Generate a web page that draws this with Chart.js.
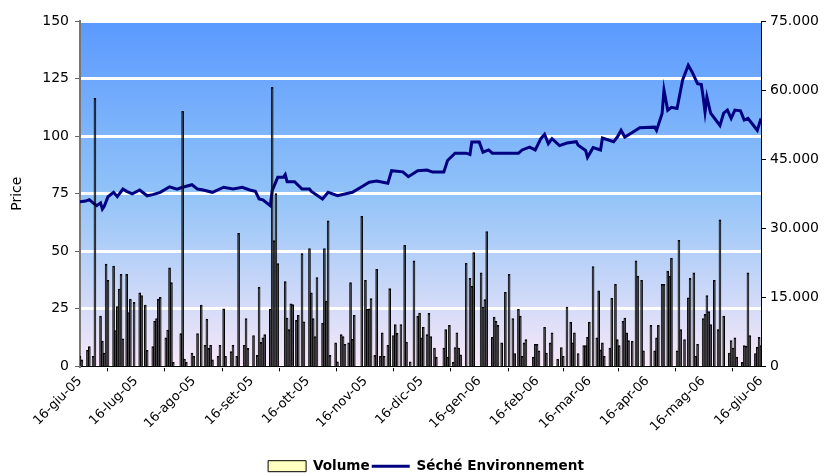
<!DOCTYPE html>
<html>
<head>
<meta charset="utf-8">
<script src="https://cdn.jsdelivr.net/npm/chart.js@4.4.0/dist/chart.umd.min.js"></script>
<style>
  html, body { margin: 0; padding: 0; background: #fff; }
  #wrap { width: 826px; height: 475px; }
</style>
</head>
<body>
<div id="wrap"><canvas id="chart" width="826" height="475"></canvas></div>
<script>
// days counted from 16-giu-05
const tickDays = [0, 30, 61, 92, 122, 153, 183, 214, 245, 273, 304, 334, 365];
const tickLabels = ['16-giu-05', '16-lug-05', '16-ago-05', '16-set-05', '16-ott-05', '16-nov-05',
  '16-dic-05', '16-gen-06', '16-feb-06', '16-mar-06', '16-apr-06', '16-mag-06', '16-giu-06'];

// Séché Environnement closing price (left axis)
const priceDays = [0, 3, 5, 7, 9, 11, 12, 13, 15, 18, 20, 23, 25, 28, 32, 36, 39, 43, 48, 52, 55, 60, 63, 66, 71,
  77, 82, 87, 91, 94, 96, 98, 102, 103, 106, 109, 110, 111, 115, 119, 123, 124, 130, 133, 138, 146, 151,
  155, 159, 165, 167, 173, 176, 181, 186, 189, 195, 197, 201, 207, 209, 210, 214, 216, 219, 221, 227, 235,
  237, 241, 244, 247, 249, 251, 253, 257, 261, 266, 267, 271, 272, 275, 279, 280, 286, 288, 290, 292, 296,
  300, 308, 309, 312, 313, 315, 317, 320, 323, 326, 328, 331, 333, 334, 335, 336, 338, 341, 343, 345, 347,
  349, 351, 354, 356, 358, 361, 363, 365];
const prices = [71.5, 71.8, 72.4, 71, 69.8, 71, 68.3, 69.5, 73.7, 75.6, 73.7, 77, 76, 74.9, 76.6, 74.1, 74.6, 75.6,
  78, 77, 77.8, 78.9, 77, 76.6, 75.6, 77.8, 77, 77.8, 76.6, 76, 72.7, 72.3, 69.8, 76.3, 82.1, 82.1, 83.3, 80.2,
  80.2, 77, 77, 76, 72.7, 75.6, 74.1, 75.6, 78, 80, 80.5, 79.5, 85, 84.5, 82.4, 85, 85.3, 84.4, 84.4, 89.4,
  92.6, 92.6, 92, 97.4, 97.4, 93, 94, 92.6, 92.6, 92.6, 94, 95.2, 94, 98.9, 100.8, 96.7, 98.9, 95.9, 97, 97.6,
  96, 93.8, 90.8, 95, 94, 99.2, 97.6, 99.6, 102.5, 99.6, 101.6, 103.6, 103.9, 102.5, 109.8, 120, 111.2, 112.5,
  112, 124.4, 130.8, 128, 122.8, 122.4, 117, 110.5, 117, 110, 106.8, 104.6, 110, 111.3, 107.7, 111.3, 111,
  107, 107.7, 104.6, 102.5, 107.7];

// daily volume (right axis)
const volumeDays = [0, 1, 4, 5, 7, 8, 11, 12, 13, 14, 15, 18, 19, 20, 21, 22, 23, 25, 26, 27, 29, 32, 33, 35, 36,
  39, 40, 41, 42, 43, 46, 47, 48, 49, 50, 54, 55, 56, 57, 60, 61, 63, 65, 67, 68, 69, 70, 71, 74, 75, 77, 78,
  81, 82, 84, 85, 88, 89, 90, 93, 95, 96, 97, 98, 99, 102, 103, 104, 105, 106, 110, 111, 112, 113, 114, 116,
  117, 119, 120, 123, 124, 125, 126, 127, 130, 131, 132, 133, 134, 137, 138, 140, 141, 142, 144, 145, 146,
  147, 151, 153, 154, 155, 156, 158, 159, 161, 162, 163, 165, 166, 168, 169, 170, 172, 174, 175, 177, 179,
  181, 182, 183, 184, 186, 187, 188, 190, 191, 195, 196, 197, 198, 200, 201, 202, 203, 204, 207, 209, 210,
  211, 215, 216, 217, 218, 221, 222, 223, 224, 226, 228, 230, 232, 233, 235, 236, 237, 238, 239, 243, 244,
  245, 246, 249, 250, 252, 253, 256, 258, 259, 261, 263, 264, 265, 267, 270, 271, 272, 273, 275, 277, 278,
  279, 280, 281, 284, 285, 287, 288, 289, 291, 292, 293, 294, 296, 298, 299, 301, 302, 306, 308, 309, 310,
  312, 313, 315, 316, 317, 320, 321, 322, 324, 326, 327, 329, 330, 331, 334, 335, 336, 337, 338, 340, 342,
  343, 345, 348, 349, 350, 351, 352, 355, 356, 357, 358, 359, 362, 363, 364, 365];
const volumes = [2200, 1400, 3500, 4300, 2200, 58200, 10900, 5500, 2900, 22200, 18700, 21800, 7800, 13000, 16800,
  20000, 6000, 20000, 11700, 14600, 13900, 16000, 15400, 13300, 3500, 4300, 9800, 10400, 14600, 15000, 6200,
  7900, 21400, 18200, 900, 7100, 55400, 1600, 900, 2900, 2200, 7100, 13300, 4600, 10300, 3900, 4600, 1400,
  2200, 4600, 12500, 2200, 3200, 4600, 2200, 28900, 4600, 10400, 3900, 6700, 2400, 17200, 5200, 6200, 6900,
  12400, 60600, 27300, 37500, 22300, 18400, 10500, 8000, 13600, 13400, 10000, 11100, 24500, 9700, 25600,
  16000, 10400, 6500, 19300, 9400, 25600, 14200, 31600, 2400, 5100, 1000, 6900, 6500, 4800, 5100, 18200,
  5900, 11100, 32600, 18700, 12400, 12500, 14700, 2400, 21100, 2200, 7300, 2200, 4600, 16900, 6700, 9100,
  7200, 9100, 26300, 5300, 1000, 22900, 10900, 11600, 6200, 8500, 6900, 11500, 6500, 4000, 2000, 4000, 8000,
  2000, 8900, 900, 4100, 7300, 4000, 2500, 22400, 19100, 17400, 24700, 20300, 12900, 14500, 29300, 6300,
  10700, 9800, 8900, 5100, 16100, 20000, 10400, 2800, 12400, 10900, 2200, 5100, 5800, 2000, 4800, 4800, 3400,
  8500, 2900, 5100, 7300, 1600, 4100, 2200, 12900, 9600, 5100, 7300, 2800, 4500, 4500, 6300, 9600, 21700,
  6200, 16400, 3600, 5100, 2200, 4000, 14800, 17800, 5800, 4500, 9800, 10500, 7300, 5600, 5500, 22900, 19600,
  18700, 3400, 8900, 3400, 6200, 8900, 17800, 17800, 20700, 19600, 23500, 3400, 27400, 8000, 5800, 14900,
  19100, 20300, 2200, 4800, 10400, 11300, 15400, 11900, 9100, 18700, 8000, 31800, 10900, 2900, 5600, 4000,
  6200, 2000, 900, 4500, 4400, 20300, 6700, 2800, 4200, 6300, 4500];

const FONT = 'DejaVu Sans';

function thousands(v) {
  if (v === 0) return '0';
  return Math.floor(v / 1000) + '.' + String(v % 1000).padStart(3, '0');
}

const plotBackground = {
  id: 'plotBackground',
  beforeDraw(chart) {
    const a = chart.chartArea, ctx = chart.ctx;
    const g = ctx.createLinearGradient(0, a.top, 0, a.bottom);
    g.addColorStop(0, 'rgb(90,153,255)');
    g.addColorStop(0.5, 'rgb(145,195,248)');
    g.addColorStop(1, 'rgb(248,232,248)');
    ctx.save();
    ctx.fillStyle = g;
    ctx.fillRect(a.left, a.top, a.right - a.left, a.bottom - a.top);
    ctx.restore();
  }
};

// legend sits a little right of the canvas centre in the original
const legendNudge = {
  id: 'legendNudge',
  afterLayout(chart) {
    if (!chart.legend) return;
    chart.legend.left += 13;
    chart.legend.right += 13;
  }
};

new Chart(document.getElementById('chart').getContext('2d'), {
  type: 'line',
  data: {
    datasets: [{
      type: 'bar',
      label: 'Volume',
      yAxisID: 'y1',
      data: volumeDays.map((d, i) => ({ x: d, y: volumes[i] })),
      backgroundColor: '#1a1a1a',
      borderColor: '#000',
      borderWidth: 1,
      barThickness: 2
    }, {
      type: 'line',
      label: 'Séché Environnement',
      yAxisID: 'y',
      data: priceDays.map((d, i) => ({ x: d, y: prices[i] })),
      borderColor: '#000080',
      borderWidth: 3,
      pointRadius: 0,
      tension: 0,
      fill: false
    }]
  },
  options: {
    responsive: false,
    animation: false,
    layout: { padding: { top: 21, left: 0, right: 0, bottom: -8 } },
    plugins: {
      tooltip: { enabled: false },
      legend: {
        position: 'bottom',
        labels: {
          color: '#000',
          font: { family: FONT, size: 13.6, weight: 'bold' },
          usePointStyle: true,
          pointStyleWidth: 38,
          boxHeight: 11,
          padding: 2,
          generateLabels: chart => chart.data.datasets.map((ds, i) => ({
            text: ds.label,
            datasetIndex: i,
            hidden: false,
            fontColor: '#000',
            pointStyle: i === 0 ? 'rect' : 'line',
            fillStyle: i === 0 ? '#ffffc0' : '#000080',
            strokeStyle: i === 0 ? '#000' : '#000080',
            lineWidth: i === 0 ? 1 : 3
          }))
        }
      }
    },
    scales: {
      x: {
        type: 'linear',
        min: 0,
        max: 365,
        offset: false,
        afterBuildTicks: s => { s.ticks = tickDays.map(v => ({ value: v })); },
        afterFit: s => { s.height = 91; },
        ticks: {
          autoSkip: false,
          minRotation: 45,
          maxRotation: 45,
          padding: 2,
          color: '#000',
          font: { family: FONT, size: 13 },
          callback: v => { const k = tickDays.indexOf(v); return k < 0 ? '' : tickLabels[k]; }
        },
        grid: { drawOnChartArea: false, drawTicks: true, tickLength: 5, tickColor: '#000' },
        border: { color: '#000', width: 1 }
      },
      y: {
        position: 'left',
        min: 0,
        max: 150,
        afterBuildTicks: s => { s.ticks = [0, 25, 50, 75, 100, 125, 150].map(v => ({ value: v })); },
        afterFit: s => { s.width = 80; },
        title: { display: true, text: 'Price', color: '#000', font: { family: FONT, size: 14 }, padding: { top: 9, bottom: 0 } },
        ticks: { color: '#000', font: { family: FONT, size: 14 }, padding: 6 },
        grid: { color: '#fff', lineWidth: 3, tickColor: '#666', tickLength: 5, tickWidth: 1 },
        border: { color: '#777', width: 2 }
      },
      y1: {
        position: 'right',
        min: 0,
        max: 75000,
        afterBuildTicks: s => { s.ticks = [0, 15000, 30000, 45000, 60000, 75000].map(v => ({ value: v })); },
        afterFit: s => { s.width = 65; },
        ticks: { color: '#000', font: { family: FONT, size: 14 }, padding: 4, callback: v => thousands(v) },
        grid: { drawOnChartArea: false, tickLength: 5, tickColor: '#000' },
        border: { color: '#000', width: 1 }
      }
    }
  },
  plugins: [plotBackground, legendNudge]
});
</script>
</body>
</html>
